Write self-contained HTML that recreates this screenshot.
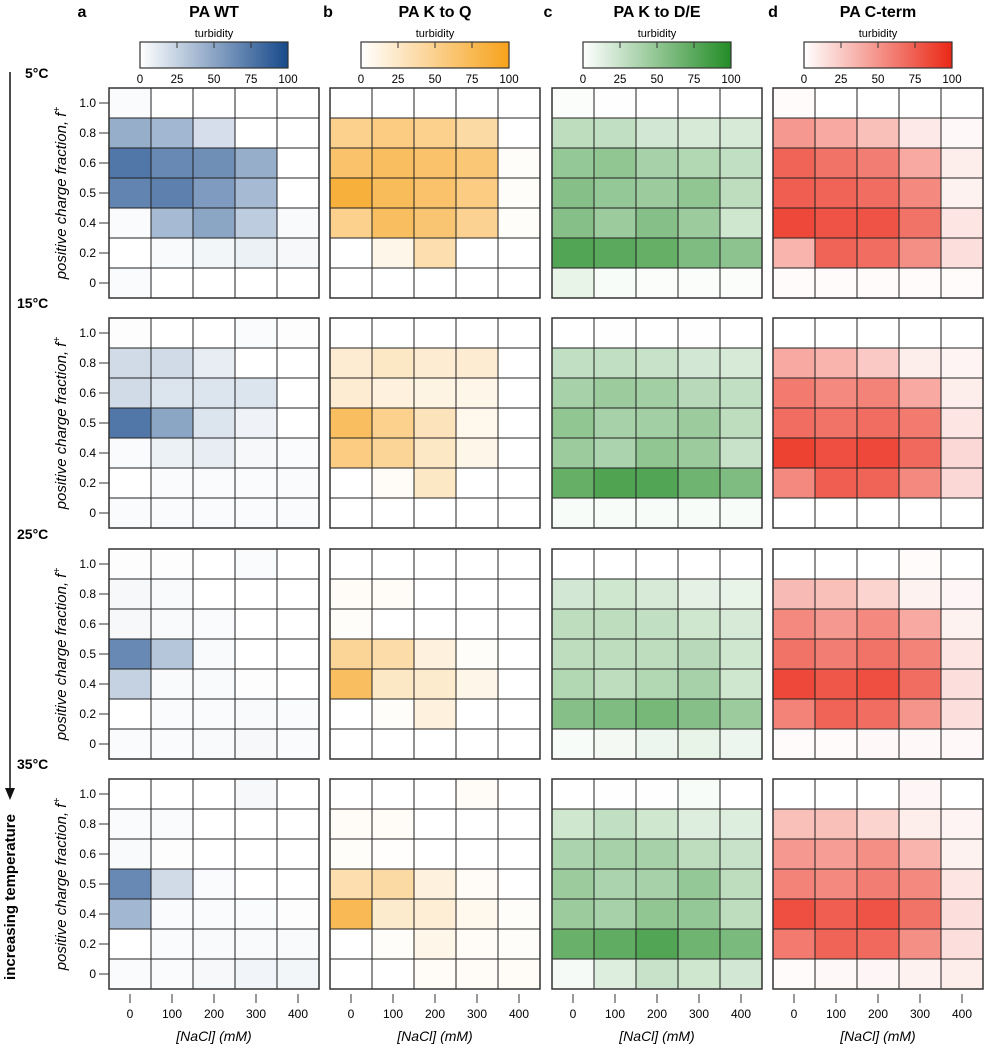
<!DOCTYPE html>
<html><head><meta charset="utf-8"><style>
html,body{margin:0;padding:0;background:#fff;}
svg{display:block;font-family:"Liberation Sans",sans-serif;}
.n{font-family:"Liberation Sans Narrow","Liberation Sans",sans-serif;}
</style></head><body>
<svg id="chart" width="987" height="1050" viewBox="0 0 987 1050" xmlns="http://www.w3.org/2000/svg"></svg>
<script>
const panels = ["PA WT","PA K to Q","PA K to D/E","PA C-term"];
const letters = ["a","b","c","d"];
const temps = ["5°C","15°C","25°C","35°C"];
const rowLabels = ["1.0","0.8","0.6","0.5","0.4","0.2","0"];
const nacl = ["0","100","200","300","400"];
const cbTicks = ["0","25","50","75","100"];
const maxColors = [[23,74,139],[247,162,27],[35,140,38],[234,40,22]];
// values[panel][temp] = 7 rows (top->bottom) x 5 NaCl
const wt = [
 [[2,0,0,0,0],[45,40,18,0,0],[75,65,62,45,0],[68,70,55,38,0],[2,38,50,28,3],[0,3,5,8,4],[2,0,0,0,0]],
 [[1,0,0,2,1],[20,20,10,0,0],[20,15,15,15,0],[75,50,15,7,0],[2,8,10,4,2],[0,2,2,2,2],[2,2,2,2,2]],
 [[1,1,0,2,0],[4,3,0,0,0],[4,3,2,0,0],[65,32,3,0,0],[25,3,3,1,0],[0,2,2,3,2],[2,2,3,4,2]],
 [[0,0,0,4,0],[2,2,0,0,0],[3,1,0,0,0],[65,20,2,0,0],[40,2,2,2,1],[0,2,3,3,3],[2,2,4,6,5]]
];
const kq = [
 [[0,0,0,0,0],[50,55,50,40,0],[65,70,65,60,2],[85,72,65,55,2],[50,70,62,48,2],[0,10,35,0,0],[0,0,0,0,0]],
 [[0,0,0,0,0],[20,25,20,20,0],[20,15,12,10,0],[70,50,30,8,0],[55,45,25,10,0],[0,4,25,0,0],[0,0,0,0,0]],
 [[0,0,0,0,0],[3,4,0,0,0],[2,0,0,0,0],[45,38,15,2,0],[70,25,22,10,0],[0,2,15,0,0],[0,0,0,0,0]],
 [[0,0,0,4,0],[3,4,0,0,0],[2,1,0,0,0],[35,40,15,3,0],[75,22,18,8,2],[0,2,10,3,2],[0,0,4,4,3]]
];
const kde = [
 [[2,1,0,0,0],[30,28,20,18,18],[48,50,40,35,28],[55,48,45,50,30],[55,45,55,45,22],[78,75,70,58,52],[10,3,2,2,2]],
 [[0,1,0,1,0],[28,28,25,20,18],[40,45,42,32,28],[50,40,42,45,30],[45,38,50,45,25],[70,80,78,65,58],[3,3,3,3,3]],
 [[0,0,0,0,0],[20,22,18,12,10],[30,30,28,22,18],[30,30,30,32,22],[35,30,35,40,22],[55,58,62,55,45],[3,5,8,10,8]],
 [[0,1,1,3,0],[22,28,22,15,15],[38,40,40,30,25],[45,38,40,48,30],[45,40,50,48,30],[68,72,78,65,60],[4,15,25,22,20]]
];
const cterm = [
 [[2,0,0,0,0],[48,40,30,10,3],[72,65,60,40,8],[75,72,68,55,6],[85,80,80,65,12],[35,72,68,52,15],[2,2,2,2,2]],
 [[0,0,0,0,0],[40,35,25,8,5],[62,55,58,40,8],[68,65,68,62,12],[88,82,85,70,18],[55,75,72,55,18],[0,0,0,0,0]],
 [[0,0,0,2,0],[32,30,20,6,4],[55,48,55,40,6],[65,60,65,58,12],[85,78,82,68,15],[58,72,68,50,15],[2,2,3,3,3]],
 [[0,0,0,4,0],[30,30,20,8,5],[48,45,52,35,6],[58,55,60,55,12],[82,75,80,65,15],[62,72,70,52,15],[2,3,4,6,8]]
];
const allData = [wt,kq,kde,cterm];

const svg = document.getElementById('chart');
const NS = "http://www.w3.org/2000/svg";
function mk(tag, attrs, parent){const e=document.createElementNS(NS,tag);for(const k in attrs)e.setAttribute(k,attrs[k]);(parent||svg).appendChild(e);return e;}
function txt(s, attrs, parent){const e=mk('text',attrs,parent);e.textContent=s;return e;}
function col(p,v){const c=maxColors[p],t=Math.max(0,Math.min(1,v/100));return `rgb(${Math.round(255+(c[0]-255)*t)},${Math.round(255+(c[1]-255)*t)},${Math.round(255+(c[2]-255)*t)})`;}

const panelX = [109,330,552,773];
const letterX = [82,328,548,773];
const panelW = 210, cellW = panelW/5;
const rowY = [88,318,549,779];
const cellH = 30;
const xScale = (p,i)=>panelX[p]+i*cellW;
const yScale = (t,r)=>rowY[t]+r*cellH;

const defs = mk('defs',{});
maxColors.forEach((c,p)=>{
  const g=mk('linearGradient',{id:'g'+p,x1:'0',x2:'1',y1:'0',y2:'0'},defs);
  mk('stop',{offset:'0','stop-color':'#fff'},g);
  mk('stop',{offset:'1','stop-color':col(p,100)},g);
});

for(let p=0;p<4;p++){
  const cx = panelX[p]+panelW/2;
  const l=txt(letters[p],{x:letterX[p],y:17,'font-size':16,'font-weight':'bold','text-anchor':'middle'});
  
  
  const t=txt(panels[p],{x:cx,y:17,'font-size':16,'font-weight':'bold','text-anchor':'middle',class:'n'});
  
  
  const cbx=panelX[p]+31, cbw=148, cby=42, cbh=26;
  const tb=txt('turbidity',{x:cbx+cbw/2,y:37,'font-size':11,'text-anchor':'middle',class:'n'});
  
  
  const cb=mk('rect',{x:cbx,y:cby,width:cbw,height:cbh,fill:`url(#g${p})`,stroke:'#333','stroke-width':1.2});
  
  
  cbTicks.forEach((s,i)=>{
    const x=cbx+i*cbw/4;
    if(i>0&&i<4) mk('line',{x1:x,x2:x,y1:cby,y2:cby+6,stroke:'#333'});
    const tl=txt(s,{x:x,y:83,'font-size':11.5,'text-anchor':'middle',class:'n'});
    
    
  });
  for(let t=0;t<4;t++){
    const vals=allData[p][t];
    for(let r=0;r<7;r++)for(let i=0;i<5;i++){
      const c=mk('rect',{x:xScale(p,i),y:yScale(t,r),width:cellW,height:cellH,fill:col(p,vals[r][i]),stroke:'#222','stroke-width':1});
      
      
    }
    const b=mk('rect',{x:panelX[p],y:rowY[t],width:panelW,height:7*cellH,fill:'none',stroke:'#333','stroke-width':1.5});
    
    
  }
  nacl.forEach((s,i)=>{
    const x=xScale(p,i)+cellW/2;
    mk('line',{x1:x,x2:x,y1:994,y2:1003,stroke:'#333'});
    const xl=txt(s,{x:x,y:1018,'font-size':12,'text-anchor':'middle',class:'n'});
    
    
  });
  const xt=txt('[NaCl] (mM)',{x:cx,y:1041,'font-size':14,'font-style':'italic','text-anchor':'middle',class:'n'});
  
  
}
for(let t=0;t<4;t++){
  rowLabels.forEach((s,r)=>{
    const y=yScale(t,r)+cellH/2;
    mk('line',{x1:99,x2:109,y1:y,y2:y,stroke:'#333'});
    const yl=txt(s,{x:96,y:y+4,'font-size':12,'text-anchor':'end',class:'n'});
    
    
  });
  const my=rowY[t]+3.5*cellH;
  const yt=txt('',{x:0,y:0,'font-size':15,'font-style':'italic','text-anchor':'middle',transform:`translate(66,${my}) rotate(-90)`});
  yt.textContent='positive charge fraction, f';
  const sup=mk('tspan',{'font-size':10,dy:-6},yt); sup.textContent='+';
  
  
  const tl=txt(temps[t],{x:t==0?25:17,y:rowY[t]-10,'font-size':14,'font-weight':'bold',class:'n'});
  
  
}
const ar=mk('line',{x1:10,x2:10,y1:72,y2:790,stroke:'#111','stroke-width':1.5});


mk('polygon',{points:'5,788 15,788 10,800',fill:'#111'});
const it=txt('increasing temperature',{x:0,y:0,'font-size':15,'font-weight':'bold','text-anchor':'middle',transform:'translate(15,897) rotate(-90)'});


</script>
</body></html>
